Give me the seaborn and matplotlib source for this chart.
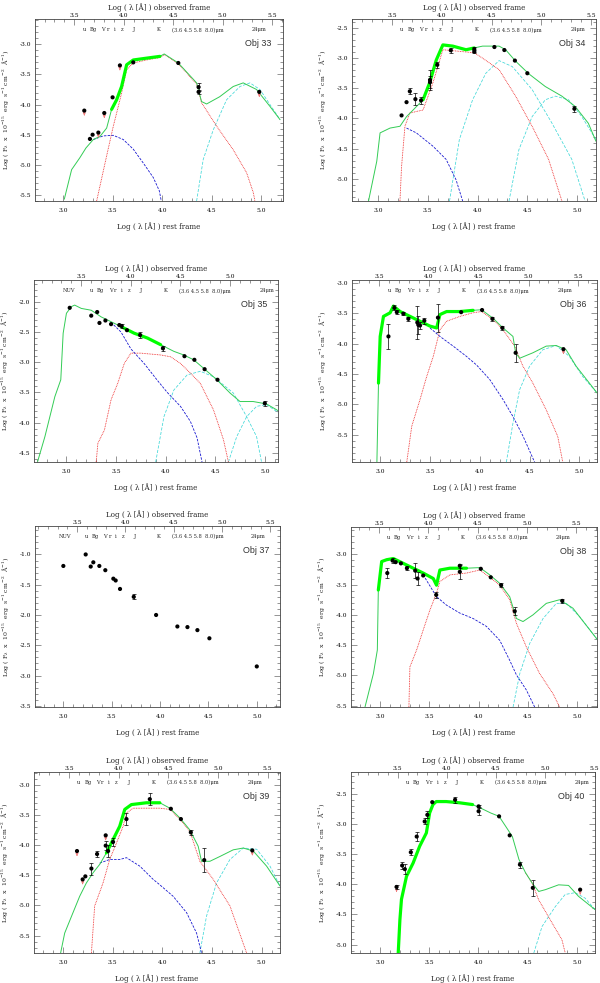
import numpy as np
import pandas as pd
import seaborn as sns
import matplotlib.pyplot as plt
from matplotlib.ticker import MultipleLocator, FixedLocator, FormatStrFormatter

sns.set_style("ticks")
plt.rcParams['font.family'] = ['DejaVu Serif']
plt.rcParams['mathtext.fontset'] = 'dejavuserif'
plt.rcParams['axes.unicode_minus'] = False

# %% photometric bands (observed frame log lambda)
filter_names = ["u", "Bg", "V", "r", "i", "z", "J", "K", "(3.6 4.5 5.8  8.0)μm", "24μm"]
filter_obs = [3.60, 3.69, 3.795, 3.838, 3.905, 3.98, 4.10, 4.35, 4.485, 5.37]
nuv_obs = 3.38
top_ticks = [3.5, 4.0, 4.5, 5.0, 5.5]

# %% Obj 33
obj33_x = [3.212, 3.269, 3.296, 3.354, 3.414, 3.498, 3.572, 3.707, 4.162, 4.367, 4.367, 4.98]
obj33_y = [-4.10, -4.57, -4.50, -4.465, -4.14, -3.88, -3.35, -3.30, -3.31, -3.71, -3.79, -3.79]
obj33_err = [0, 0, 0, 0, 0, 0, 0, 0, 0, 0.07, 0.03, 0]
obj33_ul = [1, 0, 0, 1, 1, 0, 1, 0, 0, 0, 0, 1]
obj33_tot_x = [3.01, 3.084, 3.168, 3.229, 3.303, 3.37, 3.438, 3.488, 3.539, 3.589, 3.64, 3.707, 3.84,
               3.976, 4.02, 4.162, 4.347, 4.397, 4.448, 4.58, 4.717, 4.818, 4.953, 5.088, 5.19]
obj33_tot_y = [-5.57, -5.08, -4.88, -4.72, -4.58, -4.53, -4.39, -4.08, -3.92, -3.70, -3.34, -3.26, -3.23,
               -3.20, -3.16, -3.31, -3.64, -3.95, -3.99, -3.87, -3.70, -3.64, -3.75, -4.03, -4.25]
obj33_old_x = [3.337, 3.438, 3.505, 3.539, 3.589, 3.64, 3.707, 3.84, 3.976, 4.02, 4.162, 4.347, 4.397,
               4.55, 4.717, 4.852, 4.92, 4.936]
obj33_old_y = [-5.6, -4.85, -4.36, -4.14, -3.81, -3.42, -3.31, -3.26, -3.22, -3.17, -3.32, -3.66, -3.97,
               -4.36, -4.75, -5.13, -5.46, -5.6]
obj33_young_x = [3.303, 3.404, 3.505, 3.606, 3.707, 3.808, 3.909, 3.97, 3.99]
obj33_young_y = [-4.58, -4.52, -4.51, -4.58, -4.74, -4.97, -5.21, -5.43, -5.6]
obj33_dust_x = [4.347, 4.414, 4.515, 4.65, 4.785, 4.886, 4.987, 5.19]
obj33_dust_y = [-5.6, -4.91, -4.42, -3.92, -3.70, -3.64, -3.75, -4.25]

# %% Obj 34
obj34_x = [3.236, 3.286, 3.319, 3.375, 3.432, 3.522, 3.522, 3.595, 3.731, 3.967, 3.967, 4.169, 4.269,
           4.375, 4.50, 4.973]
obj34_y = [-3.95, -3.73, -3.55, -3.68, -3.70, -3.36, -3.40, -3.11, -2.87, -2.85, -2.89, -2.815, -2.865,
           -3.04, -3.25, -3.84]
obj34_err = [0, 0, 0.05, 0.1, 0.06, 0.16, 0.1, 0.05, 0.04, 0.04, 0.03, 0, 0, 0, 0, 0.05]
obj34_ul = [0] * 16
obj34_tot_x = [2.904, 2.987, 3.02, 3.12, 3.22, 3.286, 3.352, 3.452, 3.518, 3.585, 3.651, 3.751, 3.884,
               3.967, 4.05, 4.216, 4.282, 4.382, 4.515, 4.68, 4.847, 4.98, 5.113, 5.19]
obj34_tot_y = [-5.37, -4.71, -4.24, -4.16, -4.13, -3.97, -3.86, -3.69, -3.41, -3.03, -2.78, -2.80, -2.86,
               -2.83, -2.80, -2.80, -2.86, -3.05, -3.26, -3.47, -3.63, -3.80, -4.08, -4.38]
obj34_old_x = [3.22, 3.236, 3.27, 3.319, 3.452, 3.551, 3.651, 3.967, 4.05, 4.216, 4.382, 4.548, 4.714, 4.847]
obj34_old_y = [-5.37, -4.80, -4.13, -3.91, -3.86, -3.41, -2.86, -2.91, -3.0, -3.19, -3.63, -4.13, -4.68, -5.37]
obj34_young_x = [3.286, 3.385, 3.551, 3.684, 3.784, 3.85]
obj34_young_y = [-4.16, -4.24, -4.46, -4.68, -5.02, -5.37]
obj34_dust_x = [3.718, 3.817, 3.95, 4.083, 4.216, 4.349, 4.548, 4.748, 4.947, 5.08]
obj34_dust_y = [-5.37, -4.35, -3.69, -3.25, -3.04, -3.14, -3.52, -4.08, -4.68, -5.37]
obj34_dust2_x = [4.316, 4.415, 4.548, 4.681, 4.781, 4.914, 5.047, 5.19]
obj34_dust2_y = [-5.37, -4.52, -3.97, -3.69, -3.63, -3.69, -3.97, -4.35]

# %% Obj 35
obj35_x = [3.033, 3.25, 3.31, 3.333, 3.393, 3.45, 3.533, 3.557, 3.61, 3.743, 3.973, 4.19, 4.29, 4.393,
           4.523, 5.0]
obj35_y = [-2.10, -2.23, -2.17, -2.35, -2.31, -2.37, -2.385, -2.40, -2.47, -2.55, -2.77, -2.90, -2.96,
           -3.115, -3.29, -3.68]
obj35_err = [0, 0, 0, 0, 0, 0, 0, 0.03, 0, 0.05, 0.04, 0, 0, 0, 0, 0.04]
obj35_ul = [0] * 16
obj35_tot_x = [2.71, 2.783, 2.883, 2.943, 2.967, 3.0, 3.05, 3.083, 3.15, 3.25, 3.35, 3.45, 3.55, 3.683,
               3.817, 3.95, 4.083, 4.183, 4.283, 4.383, 4.517, 4.65, 4.75, 4.883, 5.017, 5.133]
obj35_tot_y = [-4.64, -4.23, -3.57, -3.29, -2.52, -2.19, -2.08, -2.055, -2.11, -2.14, -2.25, -2.33, -2.41,
               -2.52, -2.60, -2.71, -2.82, -2.88, -2.96, -3.10, -3.29, -3.51, -3.65, -3.65, -3.69, -3.80]
obj35_old_x = [3.30, 3.317, 3.383, 3.45, 3.517, 3.583, 3.65, 3.75, 3.95, 4.05, 4.15, 4.25, 4.35, 4.483,
               4.583, 4.633]
obj35_old_y = [-4.65, -4.34, -4.12, -3.62, -3.35, -3.02, -2.85, -2.85, -2.88, -2.91, -3.02, -3.18, -3.35,
               -3.79, -4.28, -4.65]
obj35_young_x = [3.45, 3.55, 3.65, 3.783, 3.917, 4.017, 4.15, 4.25, 4.317, 4.367]
obj35_young_y = [-2.34, -2.50, -2.78, -3.02, -3.30, -3.50, -3.73, -3.98, -4.25, -4.65]
obj35_dust_x = [3.9, 3.983, 4.083, 4.217, 4.35, 4.483, 4.683, 4.817, 4.917, 4.967]
obj35_dust_y = [-4.65, -3.90, -3.46, -3.21, -3.15, -3.24, -3.51, -3.90, -4.23, -4.65]
obj35_dust2_x = [4.633, 4.717, 4.817, 4.917, 5.017, 5.133]
obj35_dust2_y = [-4.65, -4.23, -3.90, -3.73, -3.70, -3.83]

# %% Obj 36
obj36_x = [3.083, 3.143, 3.167, 3.233, 3.283, 3.373, 3.383, 3.40, 3.443, 3.58, 3.813, 4.023, 4.127,
           4.227, 4.36, 4.84]
obj36_y = [-3.88, -3.41, -3.48, -3.505, -3.59, -3.65, -3.69, -3.70, -3.62, -3.57, -3.48, -3.445, -3.59,
           -3.74, -4.15, -4.09]
obj36_err = [0.2, 0.04, 0.03, 0.03, 0.03, 0.27, 0.15, 0.05, 0.05, 0.23, 0, 0, 0.03, 0.04, 0.15, 0]
obj36_ul = [0] * 15 + [1]
obj36_tot_x = [2.967, 2.983, 3.0, 3.033, 3.1, 3.133, 3.2, 3.3, 3.4, 3.5, 3.567, 3.6, 3.667, 3.8, 3.933,
               4.017, 4.133, 4.233, 4.333, 4.36, 4.4, 4.533, 4.667, 4.767, 4.867, 4.967, 5.177]
obj36_tot_y = [-5.95, -4.65, -3.88, -3.55, -3.49, -3.38, -3.47, -3.55, -3.63, -3.71, -3.74, -3.52, -3.47,
               -3.47, -3.45, -3.44, -3.58, -3.74, -3.88, -4.15, -4.24, -4.15, -4.04, -4.03, -4.10, -4.37,
               -4.81]
obj36_old_x = [3.267, 3.317, 3.4, 3.467, 3.533, 3.6, 3.667, 3.8, 3.933, 4.017, 4.133, 4.233, 4.35, 4.433,
               4.533, 4.667, 4.783, 4.833]
obj36_old_y = [-5.95, -5.36, -4.92, -4.54, -4.21, -3.77, -3.63, -3.55, -3.49, -3.47, -3.60, -3.77, -4.04,
               -4.37, -4.65, -5.09, -5.53, -5.95]
obj36_young_x = [3.5, 3.6, 3.733, 3.867, 3.967, 4.1, 4.233, 4.333, 4.433, 4.55]
obj36_young_y = [-3.74, -3.88, -4.04, -4.21, -4.35, -4.59, -4.92, -5.2, -5.52, -5.95]
obj36_dust_x = [4.267, 4.333, 4.4, 4.5, 4.633, 4.767, 4.9, 5.033, 5.177]
obj36_dust_y = [-5.95, -5.31, -4.76, -4.37, -4.10, -4.03, -4.21, -4.54, -4.81]

# %% Obj 37 (photometry only)
obj37_x = [3.0, 3.231, 3.283, 3.31, 3.372, 3.434, 3.517, 3.541, 3.586, 3.728, 3.959, 4.179, 4.283,
           4.386, 4.51, 5.0]
obj37_y = [-1.19, -1.0, -1.20, -1.13, -1.19, -1.26, -1.40, -1.43, -1.57, -1.70, -2.0, -2.19, -2.20,
           -2.25, -2.385, -2.85]
obj37_err = [0, 0, 0, 0, 0, 0, 0, 0, 0, 0.04, 0, 0, 0, 0, 0, 0]
obj37_ul = [0] * 16

# %% Obj 38
obj38_x = [3.074, 3.128, 3.159, 3.212, 3.273, 3.357, 3.381, 3.438, 3.57, 3.809, 3.809, 4.022, 4.123,
           4.228, 4.366, 4.848]
obj38_y = [-3.31, -3.105, -3.13, -3.15, -3.23, -3.27, -3.40, -3.35, -3.67, -3.19, -3.29, -3.24, -3.38,
           -3.51, -3.94, -3.77]
obj38_err = [0.08, 0.04, 0, 0, 0.03, 0.12, 0.1, 0, 0.05, 0.03, 0.12, 0, 0, 0.03, 0.07, 0.04]
obj38_ul = [0] * 16
obj38_tot_x = [2.848, 2.933, 2.973, 2.983, 3.017, 3.067, 3.135, 3.236, 3.337, 3.438, 3.54, 3.573, 3.607,
               3.708, 3.877, 4.012, 4.113, 4.214, 4.315, 4.383, 4.45, 4.551, 4.686, 4.821, 4.956, 5.2]
obj38_tot_y = [-5.52, -4.97, -4.58, -3.59, -3.12, -3.09, -3.07, -3.15, -3.23, -3.31, -3.40, -3.51, -3.26,
               -3.23, -3.23, -3.22, -3.34, -3.48, -3.70, -4.06, -4.11, -4.0, -3.81, -3.75, -3.89, -4.40]
obj38_old_x = [3.293, 3.303, 3.371, 3.438, 3.506, 3.573, 3.607, 3.708, 3.877, 4.012, 4.113, 4.214, 4.315,
               4.383, 4.484, 4.619, 4.754, 4.821]
obj38_old_y = [-5.52, -4.86, -4.58, -4.25, -3.92, -3.64, -3.45, -3.34, -3.31, -3.26, -3.38, -3.51, -3.75,
               -4.14, -4.53, -4.97, -5.30, -5.52]
obj38_young_x = [3.438, 3.573, 3.675, 3.809, 3.944, 4.079, 4.214, 4.315, 4.383, 4.484, 4.568]
obj38_young_y = [-3.34, -3.70, -3.84, -3.97, -4.06, -4.19, -4.42, -4.75, -4.99, -5.24, -5.52]
obj38_dust_x = [4.349, 4.417, 4.518, 4.653, 4.788, 4.889, 5.024, 5.2]
obj38_dust_y = [-5.52, -4.97, -4.47, -4.06, -3.81, -3.81, -4.03, -4.40]

# %% Obj 39
obj39_x = [3.141, 3.198, 3.225, 3.286, 3.343, 3.43, 3.43, 3.454, 3.504, 3.639, 3.874, 4.086, 4.187,
           4.287, 4.422, 4.906]
obj39_y = [-4.10, -4.57, -4.52, -4.39, -4.15, -3.84, -4.01, -4.10, -3.95, -3.57, -3.24, -3.40, -3.57,
           -3.79, -4.25, -4.09]
obj39_err = [0, 0, 0, 0.1, 0.05, 0, 0.08, 0.1, 0.06, 0.1, 0.1, 0, 0, 0.04, 0.2, 0]
obj39_ul = [1, 1, 0, 0, 0, 1, 0, 0, 0, 0, 0, 0, 0, 0, 0, 1]
obj39_tot_x = [2.976, 3.017, 3.101, 3.168, 3.235, 3.303, 3.37, 3.437, 3.504, 3.571, 3.622, 3.689, 3.84,
               3.975, 4.076, 4.176, 4.277, 4.361, 4.395, 4.479, 4.58, 4.714, 4.815, 4.916, 5.05, 5.185]
obj39_tot_y = [-5.79, -5.46, -5.12, -4.85, -4.63, -4.46, -4.32, -4.13, -3.91, -3.69, -3.41, -3.33, -3.30,
               -3.30, -3.39, -3.55, -3.75, -4.02, -4.27, -4.27, -4.19, -4.08, -4.05, -4.10, -4.35, -4.68]
obj39_old_x = [3.286, 3.319, 3.403, 3.47, 3.538, 3.605, 3.639, 3.706, 3.84, 3.975, 4.076, 4.176, 4.277,
               4.378, 4.513, 4.681, 4.849]
obj39_old_y = [-5.79, -5.01, -4.63, -4.24, -3.97, -3.69, -3.47, -3.39, -3.39, -3.39, -3.41, -3.57, -3.77,
               -4.27, -4.57, -5.01, -5.79]
obj39_young_x = [3.37, 3.47, 3.571, 3.639, 3.773, 3.908, 3.975, 4.109, 4.244, 4.345, 4.395]
obj39_young_y = [-4.30, -4.24, -4.24, -4.21, -4.35, -4.57, -4.66, -4.85, -5.12, -5.46, -5.79]
obj39_dust_x = [4.378, 4.445, 4.546, 4.681, 4.815, 4.95, 5.084, 5.185]
obj39_dust_y = [-5.79, -5.18, -4.63, -4.24, -4.05, -4.07, -4.35, -4.68]

# %% Obj 40
obj40_x = [3.168, 3.225, 3.252, 3.313, 3.373, 3.454, 3.481, 3.531, 3.763, 4.002, 4.002, 4.21, 4.318,
           4.422, 4.553, 5.034]
obj40_y = [-4.045, -3.69, -3.75, -3.47, -3.21, -2.96, -2.85, -2.64, -2.60, -2.71, -2.79, -2.875, -3.19,
           -3.675, -4.06, -4.09]
obj40_err = [0.03, 0.06, 0.08, 0.05, 0.08, 0.05, 0.06, 0, 0.05, 0.03, 0.07, 0, 0, 0.05, 0.13, 0]
obj40_ul = [1] + [0] * 14 + [1]
obj40_tot_x = [3.185, 3.202, 3.218, 3.269, 3.336, 3.403, 3.471, 3.504, 3.538, 3.571, 3.672, 3.807, 3.941,
               4.025, 4.126, 4.21, 4.277, 4.345, 4.412, 4.479, 4.546, 4.613, 4.681, 4.815, 4.916, 5.017,
               5.185]
obj40_tot_y = [-5.14, -4.59, -4.25, -3.87, -3.65, -3.37, -3.15, -2.82, -2.68, -2.63, -2.63, -2.65, -2.68,
               -2.74, -2.82, -2.875, -3.04, -3.21, -3.59, -3.81, -3.98, -4.12, -4.09, -4.01, -4.02, -4.20,
               -4.42]
obj40_old_x = [4.479, 4.546, 4.613, 4.748, 4.849, 4.882]
obj40_old_y = [-3.81, -3.98, -4.26, -4.64, -4.92, -5.14]
obj40_dust_x = [4.563, 4.647, 4.782, 4.882, 4.983, 5.084, 5.185]
obj40_dust_y = [-5.14, -4.70, -4.37, -4.17, -4.14, -4.23, -4.42]

# %% panel table: name, redshift offset log(1+z), limits, noisy-spectrum range, photometry, models
panels = [
    dict(name="Obj 33", off=0.39, xlim=(2.714, 5.22), ylim=(-5.6, -2.58), band=(3.45, 3.98), nuv=False,
         pts=(obj33_x, obj33_y, obj33_err, obj33_ul), tot=(obj33_tot_x, obj33_tot_y),
         old=(obj33_old_x, obj33_old_y), young=(obj33_young_x, obj33_young_y),
         dust=[(obj33_dust_x, obj33_dust_y)]),
    dict(name="Obj 34", off=0.36, xlim=(2.738, 5.19), ylim=(-5.37, -2.35), band=(3.45, 3.98), nuv=False,
         pts=(obj34_x, obj34_y, obj34_err, obj34_ul), tot=(obj34_tot_x, obj34_tot_y),
         old=(obj34_old_x, obj34_old_y), young=(obj34_young_x, obj34_young_y),
         dust=[(obj34_dust_x, obj34_dust_y), (obj34_dust2_x, obj34_dust2_y)]),
    dict(name="Obj 35", off=0.35, xlim=(2.673, 5.133), ylim=(-4.65, -1.64), band=(3.5, 3.96), nuv=True,
         pts=(obj35_x, obj35_y, obj35_err, obj35_ul), tot=(obj35_tot_x, obj35_tot_y),
         old=(obj35_old_x, obj35_old_y), young=(obj35_young_x, obj35_young_y),
         dust=[(obj35_dust_x, obj35_dust_y), (obj35_dust2_x, obj35_dust2_y)]),
    dict(name="Obj 36", off=0.51, xlim=(2.717, 5.177), ylim=(-5.95, -2.95), band=(2.98, 3.98), nuv=False,
         pts=(obj36_x, obj36_y, obj36_err, obj36_ul), tot=(obj36_tot_x, obj36_tot_y),
         old=(obj36_old_x, obj36_old_y), young=(obj36_young_x, obj36_young_y),
         dust=[(obj36_dust_x, obj36_dust_y)]),
    dict(name="Obj 37", off=0.36, xlim=(2.707, 5.24), ylim=(-3.52, -0.53), band=None, nuv=True,
         pts=(obj37_x, obj37_y, obj37_err, obj37_ul), tot=None, old=None, young=None, dust=[]),
    dict(name="Obj 38", off=0.51, xlim=(2.706, 5.2), ylim=(-5.52, -2.55), band=(2.98, 3.98), nuv=False,
         pts=(obj38_x, obj38_y, obj38_err, obj38_ul), tot=(obj38_tot_x, obj38_tot_y),
         old=(obj38_old_x, obj38_old_y), young=(obj38_young_x, obj38_young_y),
         dust=[(obj38_dust_x, obj38_dust_y)]),
    dict(name="Obj 39", off=0.44, xlim=(2.708, 5.185), ylim=(-5.79, -2.79), band=(3.4, 3.98), nuv=False,
         pts=(obj39_x, obj39_y, obj39_err, obj39_ul), tot=(obj39_tot_x, obj39_tot_y),
         old=(obj39_old_x, obj39_old_y), young=(obj39_young_x, obj39_young_y),
         dust=[(obj39_dust_x, obj39_dust_y)]),
    dict(name="Obj 40", off=0.32, xlim=(2.705, 5.185), ylim=(-5.14, -2.14), band=(3.18, 3.98), nuv=False,
         pts=(obj40_x, obj40_y, obj40_err, obj40_ul), tot=(obj40_tot_x, obj40_tot_y),
         old=(obj40_old_x, obj40_old_y), young=None,
         dust=[(obj40_dust_x, obj40_dust_y)]),
]

# axes boxes in pixels (left, right, top, bottom) of the 600x983 figure
boxes = [(35, 283, 19, 201), (352, 596, 19, 201),
         (34, 278, 280, 462), (352, 597, 280, 462),
         (35, 280, 526, 707), (351, 597, 527, 707),
         (34, 280, 772, 953), (351, 595, 772, 953)]

W, H = 600, 983
fig = plt.figure(figsize=(W / 100, H / 100), dpi=100)

c_tot, c_band = '#33cc55', '#00ff00'
c_old, c_young, c_dust = '#ee2020', '#1818d0', '#40d8d8'
c_arrow = '#f07878'
fs_tick = 4.3
fs_lab = 5.1
frame = '#444444'

for p, (l, r, t, b) in zip(panels, boxes):
    ax = fig.add_axes([l / W, 1 - b / H, (r - l) / W, (b - t) / H])
    ax.set_xlim(*p['xlim'])
    ax.set_ylim(*p['ylim'])

    for dx, dy in p['dust']:
        sns.lineplot(x=dx, y=dy, ax=ax, sort=False, estimator=None, color=c_dust, lw=0.55,
                     linestyle=(0, (4, 2)))
    if p['old'] is not None:
        sns.lineplot(x=p['old'][0], y=p['old'][1], ax=ax, sort=False, estimator=None, color=c_old,
                     lw=0.6, linestyle=(0, (1, 1)))
    if p['young'] is not None:
        sns.lineplot(x=p['young'][0], y=p['young'][1], ax=ax, sort=False, estimator=None, color=c_young,
                     lw=0.6, linestyle=(0, (3, 1.5)))
    if p['tot'] is not None:
        tx, ty = np.array(p['tot'][0]), np.array(p['tot'][1])
        sns.lineplot(x=tx, y=ty, ax=ax, sort=False, estimator=None, color=c_tot, lw=0.7)
        m = (tx >= p['band'][0]) & (tx <= p['band'][1])
        sns.lineplot(x=tx[m], y=ty[m], ax=ax, sort=False, estimator=None, color=c_band, lw=2.3)

    px, py, pe, pu = p['pts']
    px, py, pe, pu = map(np.array, (px, py, pe, pu))
    for xi, yi in zip(px[pu == 1], py[pu == 1]):
        ax.annotate('', xy=(xi, yi - 0.13), xytext=(xi, yi - 0.02),
                    arrowprops=dict(arrowstyle='-|>', color=c_arrow, lw=0.5, mutation_scale=4),
                    zorder=4)
    e = pe > 0
    ax.errorbar(px[e], py[e], yerr=pe[e], fmt='none', ecolor='black', elinewidth=0.5,
                capsize=1.3, capthick=0.5, zorder=5)
    sns.scatterplot(x=px, y=py, ax=ax, color='black', s=9, edgecolor='none', zorder=6)

    # filter labels along the top (observed frame -> rest frame)
    names = filter_names + (["NUV"] if p['nuv'] else [])
    pos = filter_obs + ([nuv_obs] if p['nuv'] else [])
    for nm, ob in zip(names, pos):
        ha = 'left' if nm.startswith('(') else 'center'
        ax.text(ob - p['off'], 0.94, nm, transform=ax.get_xaxis_transform(), ha=ha, va='center',
                fontsize=3.7)
    ax.text(0.955, 0.865, p['name'], transform=ax.transAxes, ha='right', va='center',
            fontsize=6.4, family=['Liberation Sans', 'DejaVu Sans'], color='#333333')

    ax.xaxis.set_major_locator(MultipleLocator(0.5))
    ax.xaxis.set_minor_locator(MultipleLocator(0.1))
    ax.yaxis.set_major_locator(MultipleLocator(0.5))
    ax.yaxis.set_minor_locator(MultipleLocator(0.1))
    ax.xaxis.set_major_formatter(FormatStrFormatter('%.1f'))
    ax.yaxis.set_major_formatter(FormatStrFormatter('%.1f'))
    ax.tick_params(which='both', direction='in', top=False, right=True, colors=frame,
                   labelcolor='black', width=0.4)
    ax.tick_params(which='major', length=4, labelsize=fs_tick)
    ax.tick_params(which='minor', length=2)
    ax.tick_params(axis='x', pad=5)
    ax.tick_params(axis='y', pad=2.5)
    for s in ax.spines.values():
        s.set_color(frame)
        s.set_linewidth(0.6)

    off = p['off']
    sec = ax.secondary_xaxis('top', functions=(lambda v, o=off: v + o, lambda v, o=off: v - o))
    sec.xaxis.set_major_locator(FixedLocator(top_ticks))
    sec.xaxis.set_minor_locator(MultipleLocator(0.1))
    sec.xaxis.set_major_formatter(FormatStrFormatter('%.1f'))
    sec.tick_params(which='both', direction='in', colors=frame, labelcolor='black', width=0.4)
    sec.tick_params(which='major', length=4, labelsize=fs_tick, pad=1.0)
    sec.tick_params(which='minor', length=2)
    sec.spines['top'].set_visible(False)
    sec.set_xlabel("Log ( λ [Å] ) observed frame", fontsize=fs_lab, labelpad=1.6)

    ax.set_xlabel("Log ( λ [Å] ) rest frame", fontsize=fs_lab)
    ax.xaxis.set_label_coords(0.5, -0.118)
    ax.set_ylabel(r"Log ( F$_\lambda$  x  10$^{-15}$  erg  s$^{-1}$ cm$^{-2}$  Å$^{-1}$)",
                  fontsize=4.5)
    ax.yaxis.set_label_coords(-24.0 / (r - l), 0.5)

fig.savefig("out.png", dpi=100)
